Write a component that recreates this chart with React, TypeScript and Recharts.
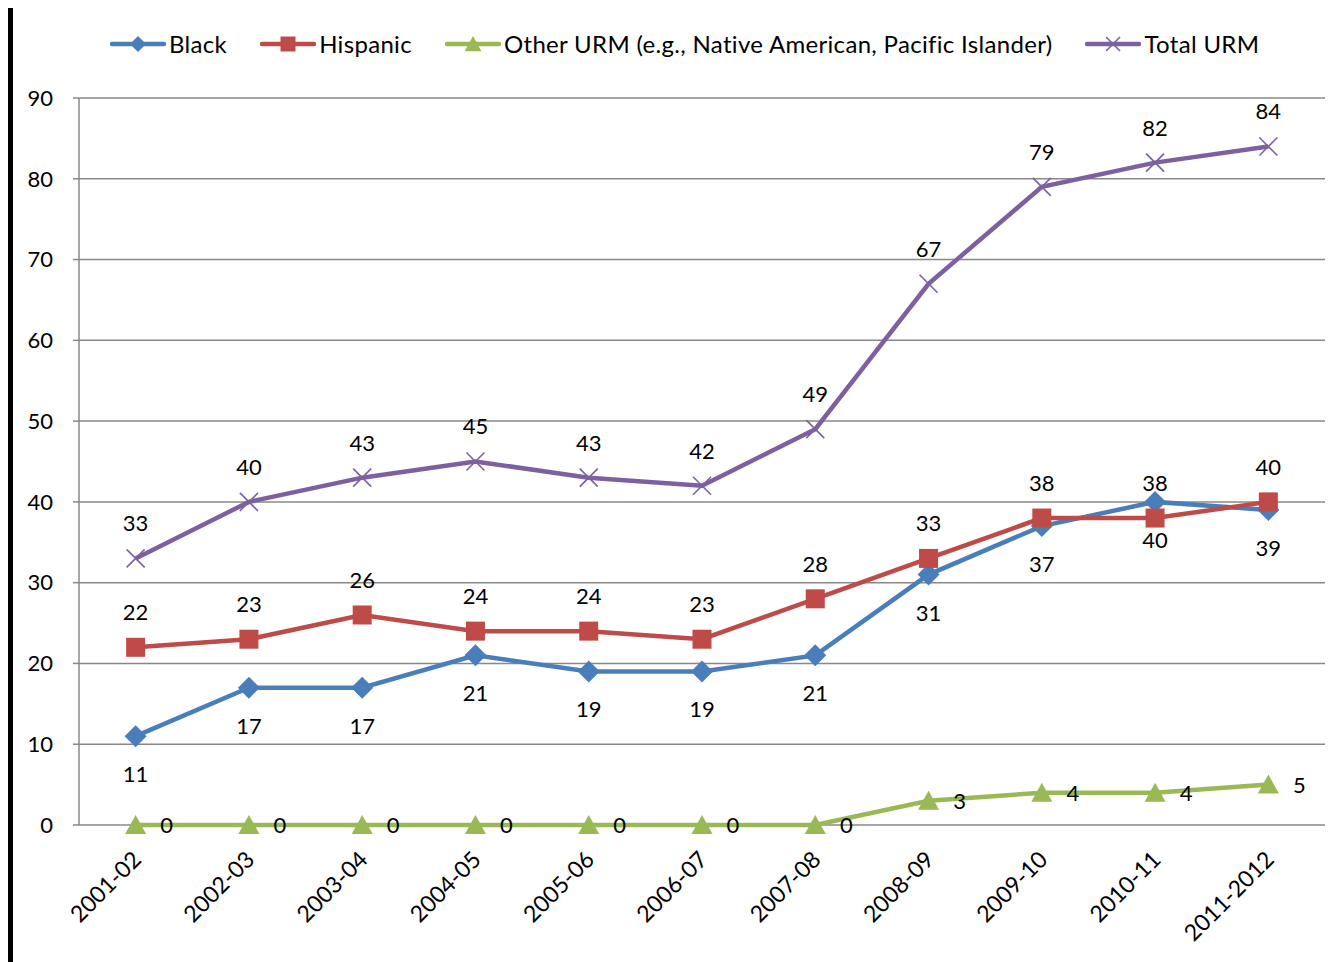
import React from 'react';
import { LineChart, Line, XAxis, YAxis, CartesianGrid, LabelList, Legend } from 'recharts';

const years = ['2001-02', '2002-03', '2003-04', '2004-05', '2005-06', '2006-07', '2007-08', '2008-09', '2009-10', '2010-11', '2011-2012'];
const black = [11, 17, 17, 21, 19, 19, 21, 31, 37, 40, 39];
const hispanic = [22, 23, 26, 24, 24, 23, 28, 33, 38, 38, 40];
const otherUrm = [0, 0, 0, 0, 0, 0, 0, 3, 4, 4, 5];
const totalUrm = [33, 40, 43, 45, 43, 42, 49, 67, 79, 82, 84];
const yTicks = [0, 10, 20, 30, 40, 50, 60, 70, 80, 90];
const seriesNames = ['Black', 'Hispanic', 'Other URM (e.g., Native American, Pacific Islander)', 'Total URM'];

const data = years.map((year, i) => ({
  year,
  black: black[i],
  hispanic: hispanic[i],
  other: otherUrm[i],
  total: totalUrm[i],
}));

const boundaryTicks = years.map((_, i) => i).concat(years.length);

const FONT = 'Lato, "Open Sans", sans-serif';
const C_BLACK = '#4A7EBB';
const C_HISP = '#BE4B48';
const C_OTHER = '#98B954';
const C_TOTAL = '#7D60A0';
const GRID = '#888888';

const Diamond = (p: any) => {
  const { cx, cy, size = 11 } = p;
  if (cx == null || cy == null) return <g />;
  const r = size;
  return <path d={`M${cx},${cy - r} L${cx + r},${cy} L${cx},${cy + r} L${cx - r},${cy} Z`} fill={C_BLACK} />;
};
const Square = (p: any) => {
  const { cx, cy, size = 9.5 } = p;
  if (cx == null || cy == null) return <g />;
  const r = size;
  return <rect x={cx - r} y={cy - r} width={2 * r} height={2 * r} fill={C_HISP} />;
};
const Triangle = (p: any) => {
  const { cx, cy, size = 10 } = p;
  if (cx == null || cy == null) return <g />;
  const r = size;
  return <path d={`M${cx},${cy - r} L${cx + r * 1.05},${cy + r * 0.9} L${cx - r * 1.05},${cy + r * 0.9} Z`} fill={C_OTHER} />;
};
const Cross = (p: any) => {
  const { cx, cy, size = 9 } = p;
  if (cx == null || cy == null) return <g />;
  const r = size;
  return (
    <g stroke={C_TOTAL} strokeWidth={1.6}>
      <line x1={cx - r} y1={cy - r} x2={cx + r} y2={cy + r} />
      <line x1={cx - r} y1={cy + r} x2={cx + r} y2={cy - r} />
    </g>
  );
};

const makeLabel = (pos: 'top' | 'bottom' | 'right') => (p: any) => {
  const { x, y, value } = p;
  if (x == null || y == null) return null;
  let tx = x;
  let ty = y;
  if (pos === 'top') ty = y - 35;
  if (pos === 'bottom') ty = y + 38;
  if (pos === 'right') tx = x + 31;
  return (
    <text x={tx} y={ty} dy="0.36em" textAnchor="middle" fontSize={22} fontFamily={FONT} fill="#000">
      {value}
    </text>
  );
};

const XTick = (p: any) => {
  const { x, y, payload } = p;
  return (
    <text transform={`translate(${x + 7},${y + 36}) rotate(-45)`} textAnchor="end" fontSize={23} fontFamily={FONT} fill="#000">
      {payload.value}
    </text>
  );
};

const legendItems = [
  { name: seriesNames[0], color: C_BLACK, Marker: Diamond, size: 8 },
  { name: seriesNames[1], color: C_HISP, Marker: Square, size: 7.5 },
  { name: seriesNames[2], color: C_OTHER, Marker: Triangle, size: 8 },
  { name: seriesNames[3], color: C_TOTAL, Marker: Cross, size: 7 },
];

const LegendContent = () => (
  <div style={{ display: 'flex', flexDirection: 'row', alignItems: 'center', gap: 33, fontFamily: FONT, fontSize: 24, letterSpacing: 0.32, fontVariantLigatures: 'none', color: '#000', whiteSpace: 'nowrap' }}>
    {legendItems.map(({ name, color, Marker, size }) => (
      <div key={name} style={{ display: 'flex', alignItems: 'center' }}>
        <svg width={56} height={24} style={{ marginRight: 3 }}>
          <line x1={2} y1={12} x2={54} y2={12} stroke={color} strokeWidth={4.5} strokeLinecap="round" />
          <Marker cx={28} cy={12} size={size} />
        </svg>
        <span>{name}</span>
      </div>
    ))}
  </div>
);

export default function App() {
  return (
    <div style={{ position: 'relative', marginTop: -4, width: 1332, height: 958, boxSizing: 'border-box', borderLeft: '5px solid #000', borderTop: '4px solid #000', background: '#fff' }}>
      <LineChart width={1327} height={954} data={data} margin={{ top: 90, right: 15, left: 0, bottom: 0 }}>
        <CartesianGrid vertical={false} stroke={GRID} strokeWidth={1.5} />
        <XAxis
          xAxisId={0}
          type="number"
          domain={[0, years.length]}
          ticks={boundaryTicks}
          tick={false}
          tickSize={7}
          height={0}
          axisLine={{ stroke: GRID, strokeWidth: 1.5 }}
          tickLine={{ stroke: GRID, strokeWidth: 1.5 }}
        />
        <XAxis
          xAxisId="cat"
          dataKey="year"
          type="category"
          scale="band"
          axisLine={false}
          tickLine={false}
          tickSize={0}
          tickMargin={0}
          height={137}
          interval={0}
          tick={<XTick />}
        />
        <YAxis
          domain={[0, 90]}
          ticks={yTicks}
          interval={0}
          width={66}
          tickSize={6}
          tickMargin={20}
          axisLine={{ stroke: GRID, strokeWidth: 1.5 }}
          tickLine={{ stroke: GRID, strokeWidth: 1.5 }}
          tick={{ fontSize: 22, fill: '#000', fontFamily: FONT }}
        />
        <Legend
          layout="horizontal"
          verticalAlign="middle"
          align="center"
          wrapperStyle={{ top: 21, left: 97, width: 'auto' }}
          content={<LegendContent />}
        />
        <Line xAxisId="cat" dataKey="other" name={seriesNames[2]} stroke={C_OTHER} strokeWidth={4.5} dot={<Triangle />} activeDot={false} isAnimationActive={false}>
          <LabelList dataKey="other" content={makeLabel('right')} />
        </Line>
        <Line xAxisId="cat" dataKey="black" name={seriesNames[0]} stroke={C_BLACK} strokeWidth={4.5} dot={<Diamond />} activeDot={false} isAnimationActive={false}>
          <LabelList dataKey="black" content={makeLabel('bottom')} />
        </Line>
        <Line xAxisId="cat" dataKey="hispanic" name={seriesNames[1]} stroke={C_HISP} strokeWidth={4.5} dot={<Square />} activeDot={false} isAnimationActive={false}>
          <LabelList dataKey="hispanic" content={makeLabel('top')} />
        </Line>
        <Line xAxisId="cat" dataKey="total" name={seriesNames[3]} stroke={C_TOTAL} strokeWidth={4.5} dot={<Cross />} activeDot={false} isAnimationActive={false}>
          <LabelList dataKey="total" content={makeLabel('top')} />
        </Line>
      </LineChart>
    </div>
  );
}
